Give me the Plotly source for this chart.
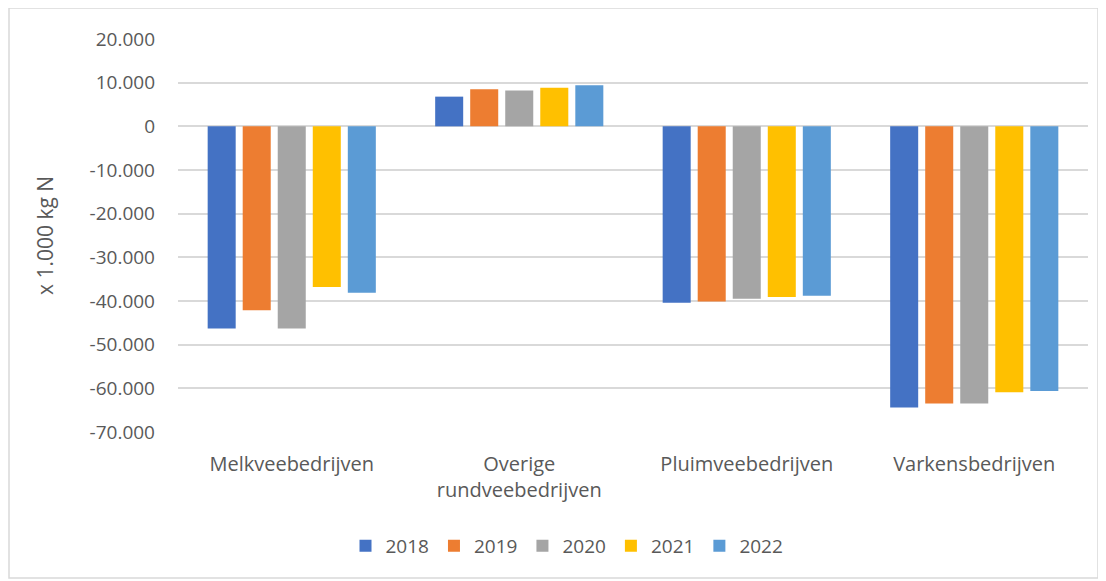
import plotly.graph_objects as go

categories = ["Melkveebedrijven", "Overige<br>rundveebedrijven", "Pluimveebedrijven", "Varkensbedrijven"]
years = ["2018", "2019", "2020", "2021", "2022"]
v2018 = [-46300, 6800, -40400, -64400]
v2019 = [-42100, 8500, -40100, -63500]
v2020 = [-46300, 8200, -39500, -63500]
v2021 = [-36800, 8850, -39100, -60900]
v2022 = [-38100, 9400, -38800, -60600]
series = [v2018, v2019, v2020, v2021, v2022]
colors = ["#4472C4", "#ED7D31", "#A5A5A5", "#FFC000", "#5B9BD5"]
tickvals = list(range(-70000, 20001, 10000))
ticktext = ["{:,}".format(v).replace(",", ".") for v in tickvals]

# page body has an 8px offset; figure is sized to fill the remaining window
OFF = 8
W, H = 1106 - OFF, 581 - OFF
L, R, T, B = 178 - OFF, 18, 39 - OFF, 149
pw, ph = W - L - R, H - T - B

fig = go.Figure()
for y, s, c in zip(years, series, colors):
    fig.add_trace(go.Bar(name=y, x=categories, y=s, marker=dict(color=c, line=dict(width=0))))

font_fam = "Open Sans, Lato, sans-serif"
txt = "#595959"
fig.update_layout(
    width=W, height=H,
    margin=dict(l=L, r=R, t=T, b=B),
    paper_bgcolor="white", plot_bgcolor="white",
    barmode="group", bargap=0.23, bargroupgap=0.2,
    font=dict(family=font_fam, size=20, color=txt),
    xaxis=dict(showgrid=False, showline=False, ticks="", tickfont=dict(size=20, color=txt),
               ticklabelstandoff=18),
    yaxis=dict(range=[-70000, 20000], tickvals=tickvals, ticktext=ticktext,
               showgrid=True, gridcolor="#D9D9D9", gridwidth=1.5,
               zeroline=True, zerolinecolor="#D9D9D9", zerolinewidth=1.5,
               showline=False, ticks="", ticklabelstandoff=22,
               tickfont=dict(size=19, color=txt),
               title=dict(text="x 1.000 kg N", font=dict(size=21, color=txt), standoff=30)),
    legend=dict(orientation="h", x=(567 - 178) / pw, xanchor="center",
                y=(39 + ph - 546) / ph, yanchor="middle",
                font=dict(size=19, color=txt), itemwidth=30, traceorder="normal"),
    shapes=[dict(type="rect", xref="paper", yref="paper",
                 x0=(1 - L) / pw, x1=(1098 - 178) / pw,
                 y0=(39 + ph - 578) / ph, y1=(39 + ph - 8) / ph,
                 line=dict(color="#D9D9D9", width=1.5), fillcolor="rgba(0,0,0,0)", layer="below")],
)
fig.write_html("out.html")
